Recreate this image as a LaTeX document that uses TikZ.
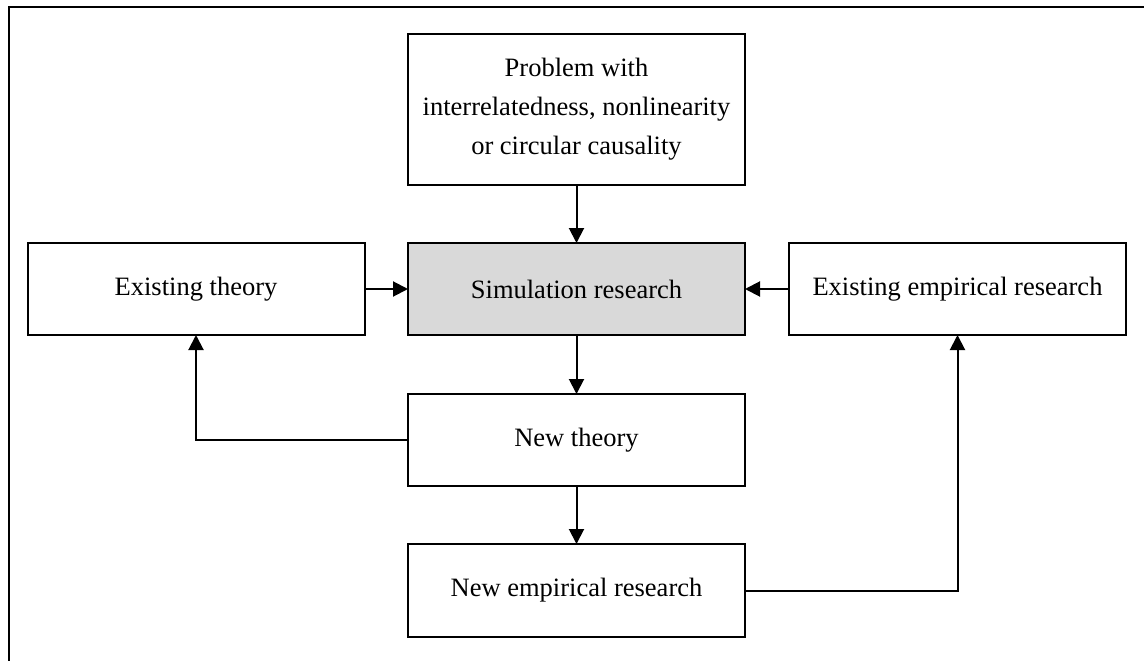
\documentclass[tikz,border=0pt]{standalone}
\usepackage{fontspec}
\setmainfont{Liberation Serif}
\usetikzlibrary{arrows.meta}
\definecolor{simfill}{RGB}{217,217,217}
\begin{document}
\begin{tikzpicture}[x=1pt,y=-1pt,
  box/.style={draw=black, line width=2pt, rectangle, inner sep=0pt, outer sep=0pt,
    minimum width=337pt, minimum height=92pt, align=center,
    font=\fontsize{26.5}{39}\selectfont},
  link/.style={line width=2pt, -{Triangle[length=15pt,width=15pt]}},
  frameline/.style={line width=2.4pt}]
  \useasboundingbox (0,0) rectangle (1144,661);
  % open frame along the top and left edges
  \draw[frameline] (9,661) -- (9,7) -- (1144,7);

  \node[box, minimum height=151pt] (prob) at (576.5,109.5)
    {Problem with\\interrelatedness, nonlinearity\\or circular causality};
  \node[box, fill=simfill] (sim) at (576.5,289) {Simulation research};
  \node[box] (theo) at (196,289) {Existing theory};
  \node[box] (emp) at (957.5,289) {Existing empirical research};
  \node[box] (ntheo) at (576.5,440) {New theory};
  \node[box, minimum height=93pt] (nemp) at (576.5,590.5) {New empirical research};

  \draw[link] (prob.south) -- (sim.north);
  \draw[link] (theo.east) -- (sim.west);
  \draw[link] (emp.west) -- (sim.east);
  \draw[link] (sim.south) -- (ntheo.north);
  \draw[link] (ntheo.south) -- (nemp.north);
  \draw[link] (ntheo.west) -| (theo.south);
  \draw[link] (nemp.east) -| (emp.south);
\end{tikzpicture}
\end{document}
